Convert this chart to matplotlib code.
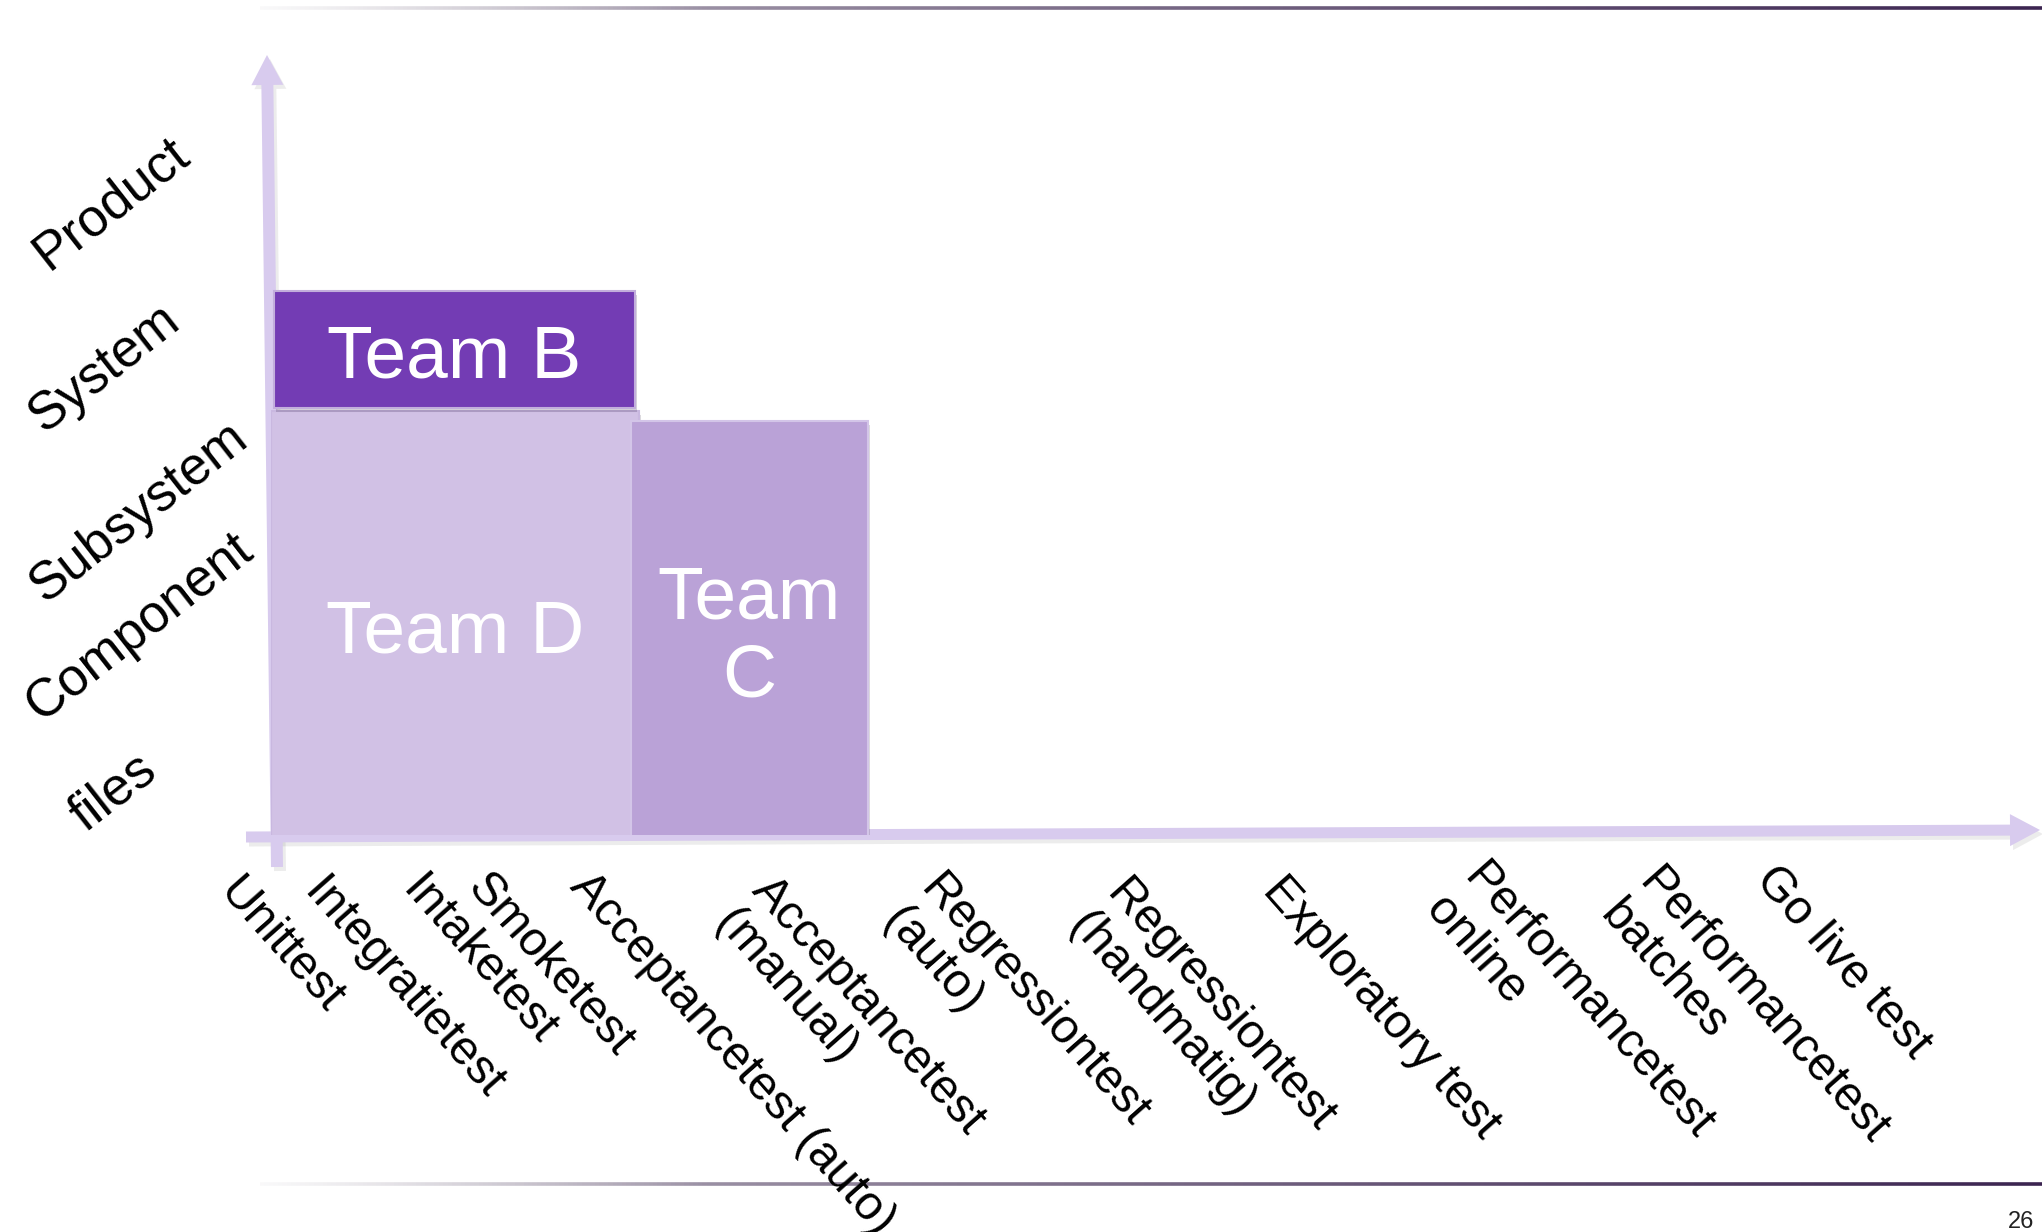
import numpy as np
import matplotlib
matplotlib.use("Agg")
import matplotlib.pyplot as plt
import matplotlib.patheffects as pe
from matplotlib.patches import FancyArrow
from matplotlib.collections import LineCollection
from matplotlib.transforms import blended_transform_factory
from matplotlib.colors import to_rgba

plt.rcParams['font.family'] = ['Liberation Sans', 'DejaVu Sans']

# --- data -------------------------------------------------------------
test_types = ["Unittest", "Integratietest", "Intaketest", "Smoketest",
              "Acceptancetest (auto)", "Acceptancetest\n(manual)",
              "Regressiontest\n(auto)", "Regressiontest\n(handmatig)",
              "Exploratory test", "Performancetest\nonline",
              "Performancetest\nbatches", "Go live test"]
levels = ["files", "Component", "Subsystem", "System", "Product"]

teams = ["Team D", "Team B", "Team C"]
team_text = ["Team D", "Team B", "Team\nC"]
# extents in test-type index (x) and level index (y)
team_x0 = [0.33, 0.36, 4.20]
team_x1 = [4.24, 4.22, 5.54]
team_y0 = [-0.27, 2.72, -0.27]
team_y1 = [2.70, 3.47, 2.63]

# --- layout (pixels on the 2042x1232 canvas) --------------------------
W, H = 2042, 1232
x_anchor_px = [243, 328, 427, 492, 595, 777, 945, 1131, 1288, 1488, 1663, 1780]
x_anchor_top = [870, 870, 868, 866, 864, 868, 866, 871, 868, 855, 860, 858]
y_center_px = [793, 627, 512, 368, 204]
y_label_x = [113, 139, 139, 104, 111]
origin_x, origin_y = 271, 835

team_colors = ["#D1C1E5", "#733CB4", "#BAA2D7"]
team_edges = ["#C9B8E0", "#C2AEDC", "#D3C5E8"]
arrow_col = "#D8CBEE"

# piecewise-linear scales so categories land where the slide put them
kx = np.r_[-20, np.arange(len(test_types)), 40]
px = np.r_[x_anchor_px[0] - 20 * 85, x_anchor_px, x_anchor_px[-1] + 29 * 170]
ky = np.r_[-20, np.arange(len(levels)), 20]
py = H - np.r_[y_center_px[0] + 20 * 166, y_center_px, y_center_px[-1] - 16 * 164]


def fx(v):
    return np.interp(v, kx, px)


def fx_inv(v):
    return np.interp(v, px, kx)


def fy(v):
    return np.interp(v, ky, py)


def fy_inv(v):
    return np.interp(v, py, ky)


fig = plt.figure(figsize=(W / 100, H / 100), dpi=100)
fig.patch.set_facecolor("white")

# decoration layer in pixel coordinates
deco = fig.add_axes([0, 0, 1, 1])
deco.set_xlim(0, W)
deco.set_ylim(H, 0)
deco.axis("off")

# gradient rules top and bottom
xs = np.linspace(260, W, 400)
c0 = np.array(to_rgba("#C8C4CC"))
c1 = np.array(to_rgba("#3B2450"))
t = np.linspace(0, 1, len(xs) - 1)
cols = c0 + (c1 - c0) * t[:, None] ** 0.8
cols[:, 3] = np.clip(t * 4, 0, 1) * 0.9 + 0.1
for yy in (8, 1184):
    segs = [[(xs[i], yy), (xs[i + 1], yy)] for i in range(len(xs) - 1)]
    deco.add_collection(LineCollection(segs, colors=cols, linewidths=2.6))

# axis arrows with soft shadow
for dxs, dys, a in ((3, 4, 0.10), (0, 0, 1.0)):
    colr = arrow_col if a == 1.0 else (0.3, 0.3, 0.3, a)
    deco.add_patch(FancyArrow(277 + dxs, 867 + dys, -10, -812, width=12,
                              head_width=32, head_length=30,
                              length_includes_head=True, color=colr, lw=0))
    deco.add_patch(FancyArrow(246 + dxs, 837 + dys, 1794, -7, width=11,
                              head_width=32, head_length=30,
                              length_includes_head=True, color=colr, lw=0))

deco.text(2008, 1222, "26", fontsize=17, color="#222222", ha="left", va="center")

# chart layer
ax = fig.add_axes([origin_x / W, (H - origin_y) / H, 1 - origin_x / W, origin_y / H])
ax.set_xscale("function", functions=(fx, fx_inv))
ax.set_yscale("function", functions=(fy, fy_inv))
ax.set_xlim(fx_inv(origin_x), fx_inv(W))
ax.set_ylim(fy_inv(H - origin_y), fy_inv(H))
ax.axis("off")
ax.patch.set_visible(False)

for i, name in enumerate(teams):
    bars = ax.bar(team_x0[i], team_y1[i] - team_y0[i], width=team_x1[i] - team_x0[i],
                  bottom=team_y0[i], align="edge", color=team_colors[i],
                  edgecolor=team_edges[i], linewidth=1.5, zorder=2 + i)
    rect = bars.patches[0]
    rect.set_path_effects([pe.SimplePatchShadow(offset=(1.5, -3), alpha=0.18),
                           pe.Normal()])
    ax.annotate(team_text[i], xy=(0.5, 0.5), xycoords=rect, xytext=(0, -6),
                textcoords="offset points", ha="center", va="center",
                fontsize=54, color="white", linespacing=1.18, zorder=10)

# category labels
tx = blended_transform_factory(ax.transData, deco.transData)
for i, lab in enumerate(test_types):
    ax.text(i, x_anchor_top[i], lab, transform=tx, rotation=-48.5,
            rotation_mode="anchor", ha="left", va="top", fontsize=34.5,
            linespacing=1.15, multialignment="left", color="black")

ty = blended_transform_factory(deco.transData, ax.transData)
for i, lab in enumerate(levels):
    ax.text(y_label_x[i], i, lab, transform=ty, rotation=38,
            rotation_mode="anchor", ha="center", va="center", fontsize=38,
            color="black")

fig.savefig("out.png", dpi=100)
